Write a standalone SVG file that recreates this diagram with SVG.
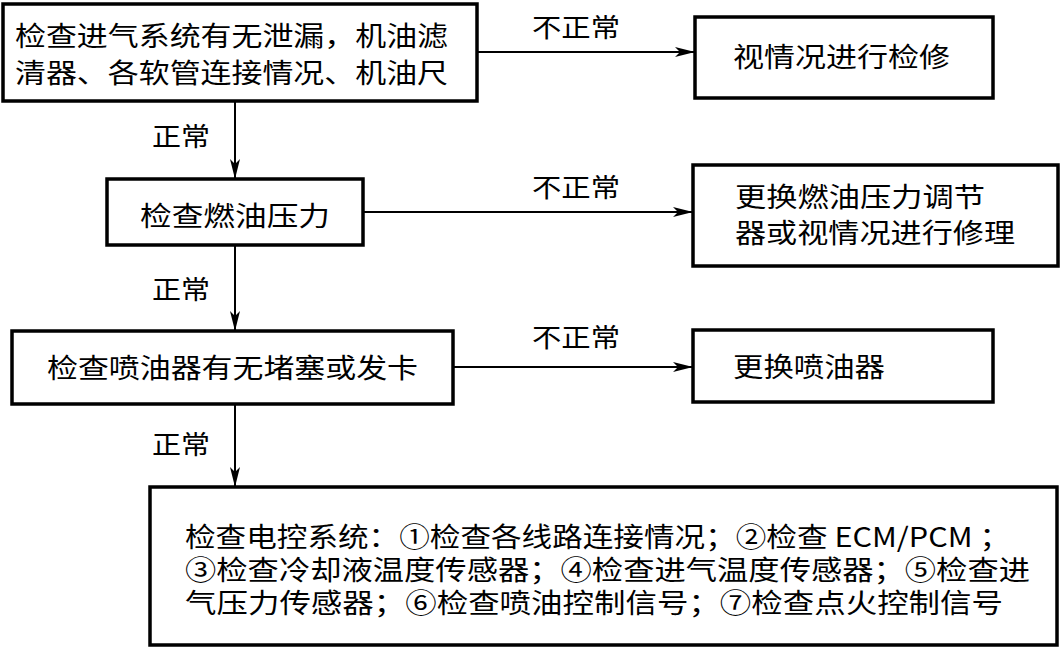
<svg xmlns="http://www.w3.org/2000/svg" width="1063" height="649" viewBox="0 0 1063 649">
<style>
.box{fill:#fff;stroke:#000;stroke-width:3.5}
.t{font-family:"Noto Sans CJK SC","Liberation Serif",serif;font-size:27px;fill:#000}
.lab{font-family:"Noto Sans CJK SC","Liberation Serif",serif;font-size:26px;fill:#000}
.c{stroke:#000;stroke-width:2;fill:none}
</style>
<defs>
<marker id="ah" viewBox="0 0 20 10" refX="20" refY="5" markerWidth="20" markerHeight="10" markerUnits="userSpaceOnUse" orient="auto">
<path d="M0,0 L20,5 L0,10 L5,5 Z" fill="#000"/>
</marker>
</defs>
<rect width="1063" height="649" fill="#fff"/>
<g id="connectors">
<line class="c" x1="477" y1="52" x2="695" y2="52" marker-end="url(#ah)"/>
<line class="c" x1="363" y1="212" x2="693" y2="212" marker-end="url(#ah)"/>
<line class="c" x1="453" y1="367" x2="693" y2="367" marker-end="url(#ah)"/>
<line class="c" x1="235" y1="101" x2="235" y2="179" marker-end="url(#ah)"/>
<line class="c" x1="235" y1="245" x2="235" y2="331" marker-end="url(#ah)"/>
<line class="c" x1="235" y1="404" x2="235" y2="487" marker-end="url(#ah)"/>
<text class="lab" x="532" y="37" textLength="88" lengthAdjust="spacingAndGlyphs">不正常</text>
<text class="lab" x="532" y="197" textLength="88" lengthAdjust="spacingAndGlyphs">不正常</text>
<text class="lab" x="532" y="347" textLength="88" lengthAdjust="spacingAndGlyphs">不正常</text>
<text class="lab" x="152" y="146" textLength="58" lengthAdjust="spacingAndGlyphs">正常</text>
<text class="lab" x="152" y="299" textLength="58" lengthAdjust="spacingAndGlyphs">正常</text>
<text class="lab" x="152" y="454" textLength="58" lengthAdjust="spacingAndGlyphs">正常</text>
</g>
<g id="n1">
<rect class="box" x="3" y="4" width="474" height="97"/>
<text class="t" x="15" y="46" textLength="433" lengthAdjust="spacingAndGlyphs">检查进气系统有无泄漏，机油滤</text>
<text class="t" x="15" y="83" textLength="433" lengthAdjust="spacingAndGlyphs">清器、各软管连接情况、机油尺</text>
</g>
<g id="n2">
<rect class="box" x="695" y="17" width="298" height="81"/>
<text class="t" x="733" y="67" textLength="217" lengthAdjust="spacingAndGlyphs">视情况进行检修</text>
</g>
<g id="n3">
<rect class="box" x="107" y="179" width="256" height="66"/>
<text class="t" x="140" y="226" textLength="190" lengthAdjust="spacingAndGlyphs">检查燃油压力</text>
</g>
<g id="n4">
<rect class="box" x="693" y="165" width="365" height="101"/>
<text class="t" x="735" y="207" textLength="250" lengthAdjust="spacingAndGlyphs">更换燃油压力调节</text>
<text class="t" x="735" y="243" textLength="280" lengthAdjust="spacingAndGlyphs">器或视情况进行修理</text>
</g>
<g id="n5">
<rect class="box" x="12" y="331" width="441" height="73"/>
<text class="t" x="47" y="378" textLength="371" lengthAdjust="spacingAndGlyphs">检查喷油器有无堵塞或发卡</text>
</g>
<g id="n6">
<rect class="box" x="693" y="330" width="300" height="72"/>
<text class="t" x="733" y="377" textLength="152" lengthAdjust="spacingAndGlyphs">更换喷油器</text>
</g>
<g id="n7">
<rect class="box" x="150" y="487" width="907" height="158"/>
<text class="t" x="185" y="547" textLength="825" lengthAdjust="spacingAndGlyphs">检查电控系统：①检查各线路连接情况；②检查 ECM/PCM ；</text>
<text class="t" x="185" y="580" textLength="845" lengthAdjust="spacingAndGlyphs">③检查冷却液温度传感器；④检查进气温度传感器；⑤检查进</text>
<text class="t" x="185" y="613" textLength="818" lengthAdjust="spacingAndGlyphs">气压力传感器；⑥检查喷油控制信号；⑦检查点火控制信号</text>
</g>
</svg>
